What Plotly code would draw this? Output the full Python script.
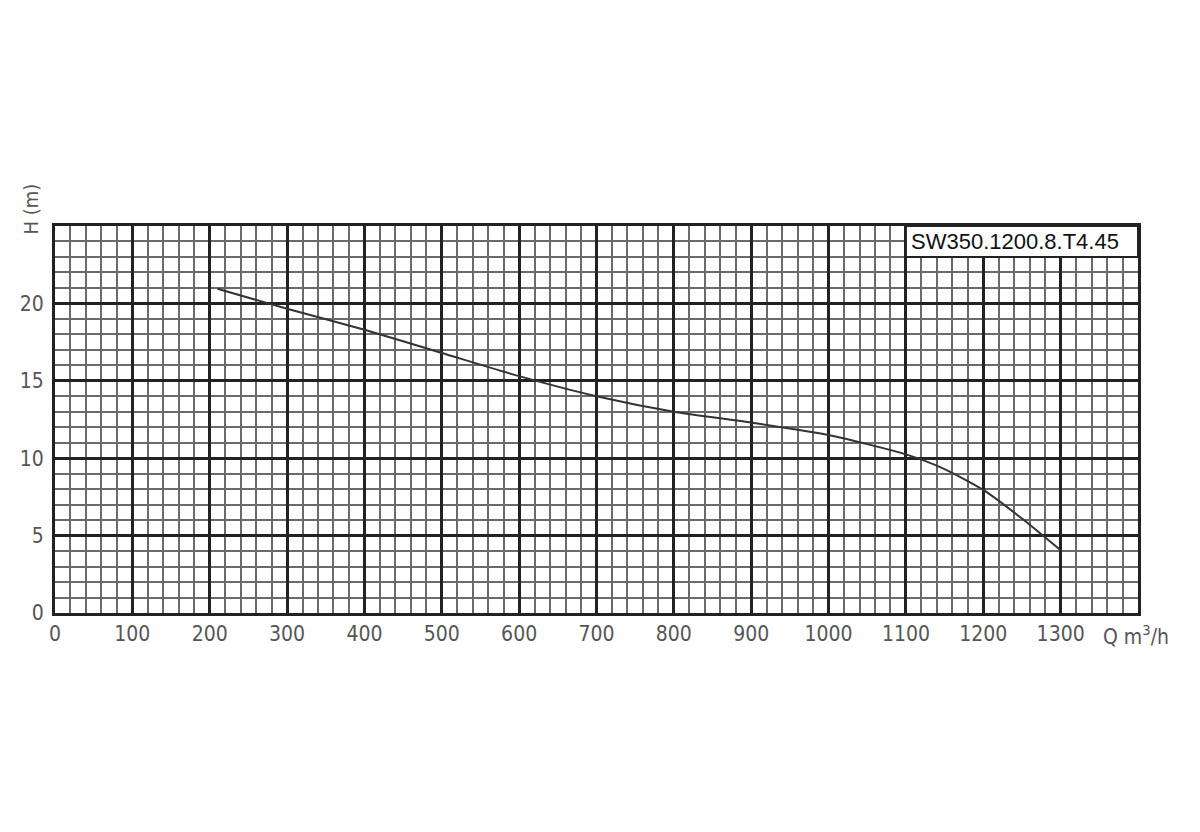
import plotly.graph_objects as go

# Pump curve data (Q in m3/h, H in m)
q_values = [210, 300, 400, 500, 600, 700, 800, 900, 1000, 1100, 1150, 1200, 1250, 1300]
h_values = [20.95, 19.65, 18.3, 16.8, 15.3, 14.0, 13.0, 12.3, 11.5, 10.25, 9.3, 7.95, 6.1, 4.05]

x_ticks = [0, 100, 200, 300, 400, 500, 600, 700, 800, 900, 1000, 1100, 1200, 1300]
y_ticks = [0, 5, 10, 15, 20]
model_name = "SW350.1200.8.T4.45"

tick_font = dict(family="DejaVu Sans Condensed, Liberation Sans Narrow, DejaVu Sans", size=21, color="#555555")

fig = go.Figure()
fig.add_trace(go.Scatter(
    x=q_values, y=h_values, mode="lines",
    line=dict(color="#333333", width=2, shape="spline", smoothing=0.6),
    showlegend=False, hoverinfo="skip",
))

fig.update_layout(
    width=1192, height=824,
    margin=dict(l=47, r=62, t=218, b=219),
    paper_bgcolor="white", plot_bgcolor="white",
    xaxis=dict(
        range=[0, 1400], tickvals=x_ticks, ticktext=[str(v) for v in x_ticks],
        showgrid=True, gridcolor="#222222", gridwidth=2.5,
        minor=dict(dtick=20, showgrid=True, gridcolor="#6a6a6a", gridwidth=1.5, tick0=0),
        showline=True, linecolor="#222222", linewidth=3, mirror=True,
        ticks="", tickfont=tick_font, zeroline=False, fixedrange=True,
    ),
    yaxis=dict(
        range=[0, 25], tickvals=y_ticks, ticktext=[str(v) for v in y_ticks],
        showgrid=True, gridcolor="#222222", gridwidth=2.5,
        minor=dict(dtick=1, showgrid=True, gridcolor="#6a6a6a", gridwidth=1.5, tick0=0),
        showline=True, linecolor="#222222", linewidth=3, mirror=True,
        ticks="", tickfont=tick_font, zeroline=False, fixedrange=True,
        ticklabelstandoff=4,
    ),
)

# Model label box in top-right cell
fig.add_shape(type="rect", xref="x", yref="y", x0=1100, x1=1400, y0=23, y1=25,
              fillcolor="white", line=dict(color="#222222", width=2), layer="above")
fig.add_annotation(xref="x", yref="y", x=1104, y=24, text=model_name, showarrow=False,
                   xanchor="left", yanchor="middle",
                   font=dict(family="Liberation Sans, Arial", size=22, color="#111111"))

# Axis titles
fig.add_annotation(xref="x", yref="paper", x=1352, y=0, yshift=-22,
                   text="Q m<sup>3</sup>/h", showarrow=False, xanchor="left", yanchor="middle",
                   font=tick_font)
fig.add_annotation(xref="paper", yref="paper", x=0, y=1.0, xshift=-25, yshift=-11,
                   text="H (m)", showarrow=False, textangle=-90, xanchor="center", yanchor="bottom",
                   font=dict(family="DejaVu Sans Condensed, DejaVu Sans", size=20, color="#555555"))

fig.write_html("out.html")
